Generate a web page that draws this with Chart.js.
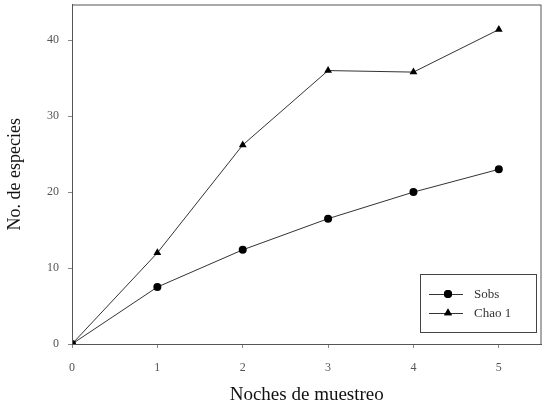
<!DOCTYPE html>
<html>
<head>
<meta charset="utf-8">
<script src="https://cdn.jsdelivr.net/npm/chart.js@4/dist/chart.umd.min.js"></script>
<style>
html,body{margin:0;padding:0;background:#fff;}
#wrap{width:546px;height:406px;}
</style>
</head>
<body>
<div id="wrap"><canvas id="c" width="546" height="406"></canvas></div>
<script>
const nights = [0, 1, 2, 3, 4, 5];
const sobs = [0, 7.5, 12.4, 16.5, 20, 23];
const chao1 = [0, 12, 26.2, 36, 35.8, 41.4];
const seriesNames = ['Sobs', 'Chao 1'];
const xTitle = 'Noches de muestreo';
const yTitle = 'No. de especies';

const serif = "'Liberation Serif','DejaVu Serif',serif";

const frame = {
  id: 'frame',
  afterDatasetsDraw(chart) {
    const {ctx, chartArea: a} = chart;
    ctx.save();
    ctx.strokeStyle = '#555';
    ctx.lineWidth = 1;
    ctx.strokeRect(a.left + 0.5, a.top + 0.5, a.right - a.left - 1, a.bottom - a.top);
    // legend box
    const bx = 420, by = 274, bw = 116, bh = 58;
    ctx.fillStyle = '#fff';
    ctx.fillRect(bx, by, bw, bh);
    ctx.strokeStyle = '#444';
    ctx.strokeRect(bx + 0.5, by + 0.5, bw, bh);
    chart.data.datasets.forEach((ds, i) => {
      const y = by + 20 + i * 19;
      ctx.strokeStyle = '#333';
      ctx.beginPath();
      ctx.moveTo(bx + 9, y + 0.5);
      ctx.lineTo(bx + 43, y + 0.5);
      ctx.stroke();
      ctx.fillStyle = '#000';
      Chart.helpers.drawPoint(ctx, {pointStyle: ds.pointStyle, radius: ds.pointRadius, borderWidth: 0}, bx + 28, y);
      ctx.fill();
      ctx.fillStyle = '#333';
      ctx.font = '13px ' + serif;
      ctx.textBaseline = 'middle';
      ctx.fillText(ds.label, bx + 54, y + 1);
    });
    ctx.restore();
  }
};

new Chart(document.getElementById('c'), {
  type: 'line',
  data: {
    datasets: [
      {label: seriesNames[0], data: nights.map((x, i) => ({x, y: sobs[i]})), borderColor: '#333', borderWidth: 1,
       pointStyle: 'circle', pointRadius: 4, pointBackgroundColor: '#000', pointBorderColor: '#000', pointBorderWidth: 0},
      {label: seriesNames[1], data: nights.map((x, i) => ({x, y: chao1[i]})), borderColor: '#333', borderWidth: 1,
       pointStyle: 'triangle', pointRadius: 4.5, pointBackgroundColor: '#000', pointBorderColor: '#000', pointBorderWidth: 0}
    ]
  },
  options: {
    responsive: false,
    animation: false,
    layout: {padding: {top: 4, right: 2, left: 0, bottom: 0}},
    plugins: {legend: {display: false}, tooltip: {enabled: false}},
    scales: {
      x: {
        type: 'linear', min: 0, max: 5.5,
        afterBuildTicks: s => { s.ticks = s.ticks.filter(t => Number.isInteger(t.value)); },
        afterFit: s => { s.height = 62; s.paddingLeft = 0; s.paddingRight = 0; },
        ticks: {stepSize: 1, color: '#555', font: {family: serif, size: 12}, padding: 13},
        grid: {display: true, drawOnChartArea: false, drawTicks: true, tickLength: 4, color: '#888'},
        border: {display: true, color: '#555'},
        title: {display: true, text: xTitle, color: '#111', font: {family: serif, size: 19}, padding: {top: 0, bottom: 0}}
      },
      y: {
        type: 'linear', min: 0, max: 44.7,
        afterBuildTicks: s => { s.ticks = s.ticks.filter(t => t.value % 10 === 0); },
        afterFit: s => { s.width = 72; s.paddingTop = 0; s.paddingBottom = 0; },
        ticks: {stepSize: 10, color: '#555', font: {family: serif, size: 12}, padding: 9},
        grid: {display: true, drawOnChartArea: false, drawTicks: true, tickLength: 4, color: '#888'},
        border: {display: true, color: '#555'},
        title: {display: true, text: yTitle, color: '#111', font: {family: serif, size: 18}, padding: {bottom: 12}}
      }
    }
  },
  plugins: [frame]
});
</script>
</body>
</html>
